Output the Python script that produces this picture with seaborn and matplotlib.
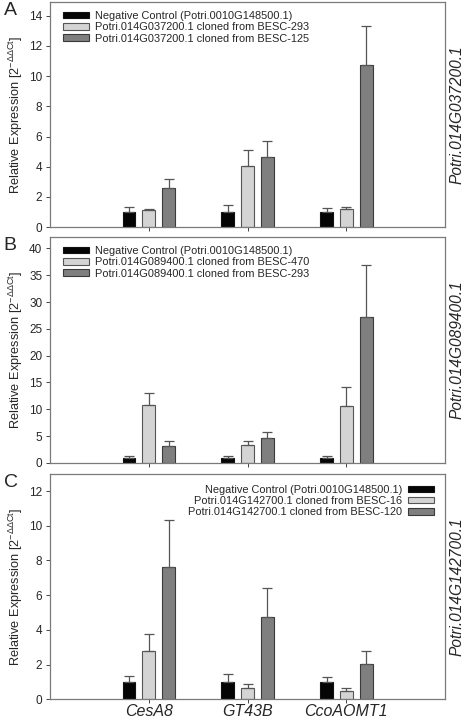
import numpy as np
import pandas as pd
import seaborn as sns
import matplotlib.pyplot as plt

genes = ['CesA8', 'GT43B', 'CcoAOMT1']

# panel A - Potri.014G037200.1
labels_a = ['Negative Control (Potri.0010G148500.1)',
            'Potri.014G037200.1 cloned from BESC-293',
            'Potri.014G037200.1 cloned from BESC-125']
ctrl_a = [1.0, 1.0, 1.0]
ctrl_a_err = [0.32, 0.45, 0.27]
s1_a = [1.13, 4.07, 1.23]
s1_a_err = [0.04, 1.07, 0.07]
s2_a = [2.62, 4.62, 10.75]
s2_a_err = [0.59, 1.09, 2.57]

# panel B - Potri.014G089400.1
labels_b = ['Negative Control (Potri.0010G148500.1)',
            'Potri.014G089400.1 cloned from BESC-470',
            'Potri.014G089400.1 cloned from BESC-293']
ctrl_b = [0.95, 0.95, 0.95]
ctrl_b_err = [0.35, 0.4, 0.3]
s1_b = [10.8, 3.3, 10.7]
s1_b_err = [2.3, 0.7, 3.5]
s2_b = [3.1, 4.65, 27.3]
s2_b_err = [0.9, 1.15, 9.6]

# panel C - Potri.014G142700.1
labels_c = ['Negative Control (Potri.0010G148500.1)',
            'Potri.014G142700.1 cloned from BESC-16',
            'Potri.014G142700.1 cloned from BESC-120']
ctrl_c = [1.0, 1.0, 1.0]
ctrl_c_err = [0.34, 0.44, 0.28]
s1_c = [2.78, 0.65, 0.48]
s1_c_err = [0.99, 0.23, 0.17]
s2_c = [7.64, 4.73, 2.05]
s2_c_err = [2.71, 1.7, 0.73]

sns.set_style('ticks')
plt.rcParams['font.family'] = ['Liberation Sans', 'DejaVu Sans']
plt.rcParams['mathtext.fontset'] = 'custom'
plt.rcParams['mathtext.rm'] = 'Liberation Sans'

colors = ['#050505', '#d4d4d4', '#7f7f7f']
edges = ['#111111', '#555555', '#3a3a3a']

panels = [
    ('A', 'Potri.014G037200.1', labels_a, [ctrl_a, s1_a, s2_a],
     [ctrl_a_err, s1_a_err, s2_a_err], 14.9, [0, 2, 4, 6, 8, 10, 12, 14], 'left'),
    ('B', 'Potri.014G089400.1', labels_b, [ctrl_b, s1_b, s2_b],
     [ctrl_b_err, s1_b_err, s2_b_err], 42.1, [0, 5, 10, 15, 20, 25, 30, 35, 40], 'left'),
    ('C', 'Potri.014G142700.1', labels_c, [ctrl_c, s1_c, s2_c],
     [ctrl_c_err, s1_c_err, s2_c_err], 13.0, [0, 2, 4, 6, 8, 10, 12], 'right'),
]

fig = plt.figure(figsize=(4.72, 7.21), dpi=100)
boxes = [[0.106, 0.685, 0.837, 0.312],
         [0.106, 0.358, 0.837, 0.313],
         [0.106, 0.030, 0.837, 0.313]]

for i, (letter, gene_id, labels, vals, errs, ymax, yticks, loc) in enumerate(panels):
    ax = fig.add_axes(boxes[i])
    df = pd.DataFrame({
        'gene': genes * 3,
        'series': np.repeat(labels, 3),
        'value': np.concatenate(vals),
    })
    sns.barplot(data=df, x='gene', y='value', hue='series', order=genes,
                hue_order=labels, palette=dict(zip(labels, colors)),
                width=0.6, gap=0.35, errorbar=None, legend=False, ax=ax,
                saturation=1)

    for cont, e, ec in zip(ax.containers, errs, edges):
        xs = [p.get_x() + p.get_width() / 2 for p in cont.patches]
        hs = [p.get_height() for p in cont.patches]
        for p in cont.patches:
            p.set_edgecolor(ec)
            p.set_linewidth(0.8)
        ax.errorbar(xs, hs, yerr=[np.zeros(len(e)), e], fmt='none',
                    ecolor='#555555', elinewidth=0.9, capsize=3.5, capthick=0.9)

    ax.set_xlim(-1.0, 3.0)
    ax.set_ylim(0, ymax)
    ax.set_yticks(yticks)
    ax.set_xlabel('')
    ax.set_ylabel(r'Relative Expression [2$^{\mathregular{-\Delta\Delta Ct}}$]',
                  fontsize=9.2, labelpad=3)
    ax.tick_params(axis='y', labelsize=8.5, length=3, width=0.7, color='#444444', pad=2.5)
    ax.tick_params(axis='x', length=3, width=0.7, color='#444444', pad=0.5)
    if letter == 'C':
        ax.set_xticklabels(genes, fontsize=11.5, style='italic')
    else:
        ax.set_xticklabels([])
    for s in ax.spines.values():
        s.set_visible(True)
        s.set_color('#7a7a7a')
        s.set_linewidth(0.9)

    leg_kw = dict(frameon=False, fontsize=7.9, handlelength=2.4, handleheight=0.55,
                  labelspacing=0.12, handletextpad=0.5, borderaxespad=0.4)
    if loc == 'left':
        ax.legend(ax.containers, labels, loc='upper left',
                  bbox_to_anchor=(0.01, 1.0), **leg_kw)
    else:
        ax.legend(ax.containers, labels, loc='upper right', markerfirst=False,
                  bbox_to_anchor=(0.995, 0.99), **leg_kw)

    top = boxes[i][1] + boxes[i][3]
    fig.text(0.008, top - 0.012, letter, fontsize=14, va='center', ha='left')
    fig.text(0.968, boxes[i][1] + boxes[i][3] / 2, gene_id, rotation=90,
             style='italic', fontsize=11.2, va='center', ha='center')

fig.savefig('out.png', dpi=100)
